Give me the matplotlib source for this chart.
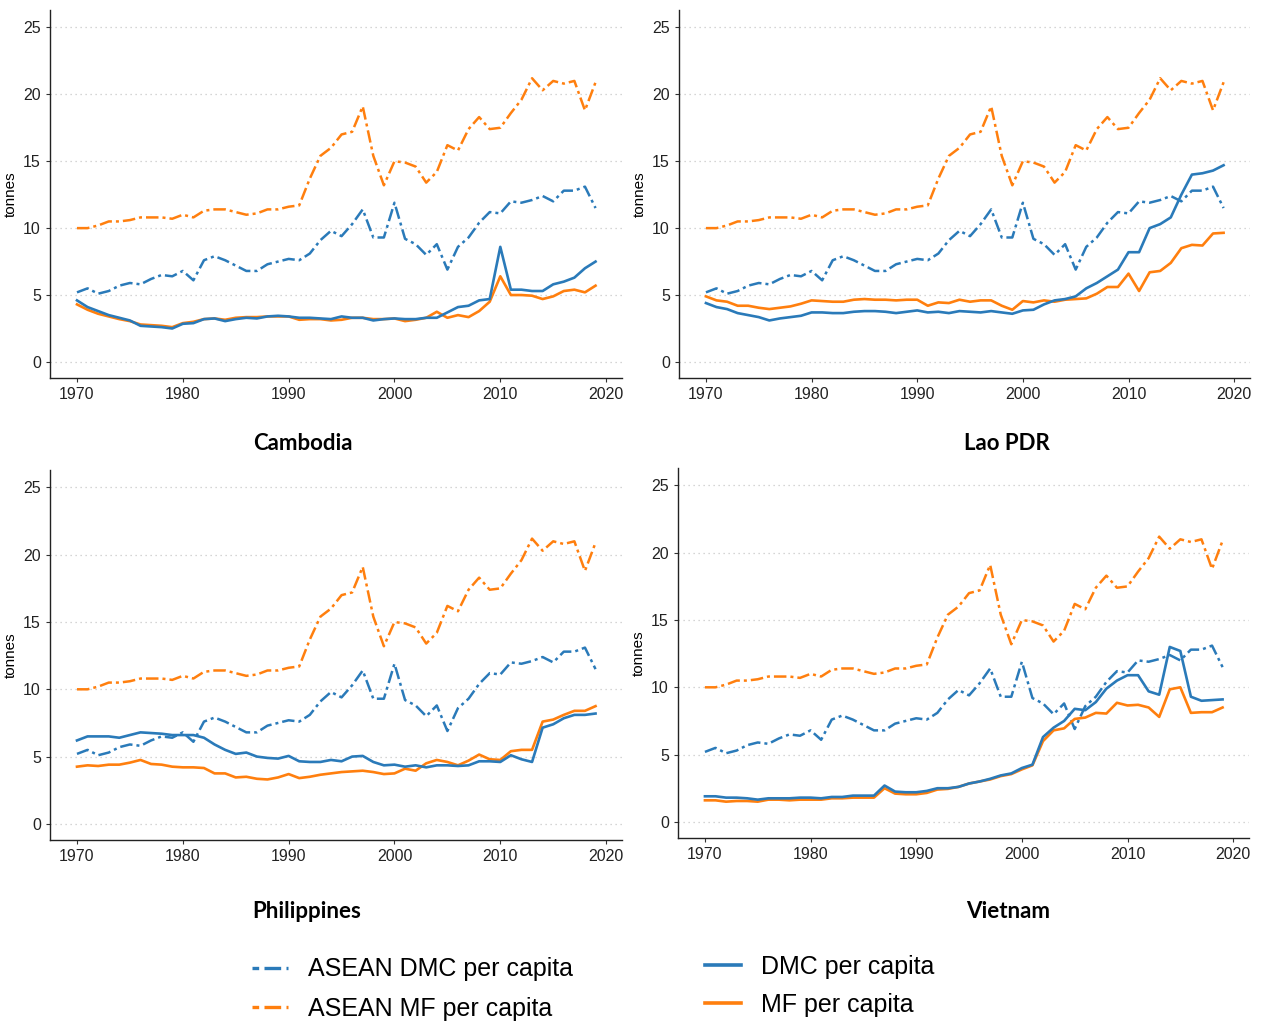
import numpy as np
import matplotlib
matplotlib.use("Agg")
import matplotlib.pyplot as plt
from matplotlib.lines import Line2D

years = list(range(1970, 2020))

# ASEAN averages (same reference lines in every panel)
asean_mf = [10.0, 10.0, 10.2, 10.5, 10.5, 10.6, 10.8, 10.8, 10.8, 10.7,
            11.0, 10.8, 11.3, 11.4, 11.4, 11.2, 11.0, 11.1, 11.4, 11.4,
            11.6, 11.7, 13.7, 15.4, 16.0, 17.0, 17.2, 19.1, 15.4, 13.2,
            15.0, 14.9, 14.6, 13.4, 14.2, 16.2, 15.8, 17.4, 18.3, 17.4,
            17.5, 18.6, 19.6, 21.2, 20.3, 21.0, 20.8, 21.0, 18.8, 20.9]
asean_dmc = [5.2, 5.5, 5.1, 5.3, 5.7, 5.9, 5.8, 6.2, 6.5, 6.4,
             6.8, 6.1, 7.6, 7.9, 7.6, 7.2, 6.8, 6.8, 7.3, 7.5,
             7.7, 7.6, 8.1, 9.1, 9.8, 9.4, 10.3, 11.4, 9.3, 9.3,
             11.9, 9.2, 8.8, 8.0, 8.8, 6.9, 8.6, 9.3, 10.4, 11.2,
             11.1, 12.0, 11.9, 12.1, 12.4, 12.0, 12.8, 12.8, 13.1, 11.5]

# Cambodia
khm_dmc = [4.6, 4.1, 3.8, 3.5, 3.3, 3.1, 2.7, 2.65, 2.6, 2.5,
           2.85, 2.9, 3.2, 3.25, 3.05, 3.2, 3.3, 3.25, 3.4, 3.45,
           3.4, 3.3, 3.3, 3.25, 3.2, 3.4, 3.3, 3.3, 3.1, 3.2,
           3.25, 3.2, 3.2, 3.3, 3.3, 3.7, 4.1, 4.2, 4.6, 4.7,
           8.6, 5.4, 5.4, 5.3, 5.3, 5.8, 6.0, 6.3, 7.0, 7.5]
khm_mf = [4.3, 3.9, 3.6, 3.4, 3.2, 3.05, 2.8, 2.75, 2.7, 2.6,
          2.9, 3.0, 3.2, 3.25, 3.15, 3.3, 3.35, 3.35, 3.4, 3.4,
          3.4, 3.15, 3.2, 3.2, 3.1, 3.15, 3.3, 3.3, 3.2, 3.2,
          3.25, 3.05, 3.15, 3.3, 3.75, 3.3, 3.5, 3.35, 3.8, 4.5,
          6.4, 5.0, 5.0, 4.95, 4.7, 4.9, 5.3, 5.4, 5.2, 5.7]

# Lao PDR
lao_dmc = [4.4, 4.1, 3.95, 3.65, 3.5, 3.35, 3.1, 3.25, 3.35, 3.45,
           3.7, 3.7, 3.65, 3.65, 3.75, 3.8, 3.8, 3.75, 3.65, 3.75,
           3.85, 3.7, 3.75, 3.65, 3.8, 3.75, 3.7, 3.8, 3.7, 3.6,
           3.85, 3.9, 4.3, 4.6, 4.7, 4.9, 5.5, 5.9, 6.4, 6.9,
           8.2, 8.2, 10.0, 10.3, 10.8, 12.5, 14.0, 14.1, 14.3, 14.7]
lao_mf = [4.9, 4.6, 4.5, 4.2, 4.2, 4.05, 3.95, 4.05, 4.15, 4.35,
          4.6, 4.55, 4.5, 4.5, 4.65, 4.7, 4.65, 4.65, 4.6, 4.65,
          4.65, 4.2, 4.45, 4.4, 4.65, 4.5, 4.6, 4.6, 4.2, 3.9,
          4.55, 4.45, 4.6, 4.5, 4.65, 4.7, 4.75, 5.1, 5.6, 5.6,
          6.6, 5.3, 6.7, 6.8, 7.4, 8.5, 8.75, 8.7, 9.6, 9.65]

# Philippines
phl_dmc = [6.2, 6.5, 6.5, 6.5, 6.4, 6.6, 6.8, 6.75, 6.7, 6.6,
           6.6, 6.6, 6.4, 5.9, 5.5, 5.2, 5.3, 5.0, 4.9, 4.85,
           5.05, 4.65, 4.6, 4.6, 4.75, 4.65, 5.0, 5.05, 4.6, 4.35,
           4.4, 4.25, 4.35, 4.2, 4.35, 4.35, 4.3, 4.35, 4.65, 4.65,
           4.6, 5.1, 4.8, 4.6, 7.15, 7.4, 7.85, 8.1, 8.1, 8.2]
phl_mf = [4.25, 4.35, 4.3, 4.4, 4.4, 4.55, 4.75, 4.45, 4.4, 4.25,
          4.2, 4.2, 4.15, 3.75, 3.75, 3.45, 3.5, 3.35, 3.3, 3.45,
          3.7, 3.4, 3.5, 3.65, 3.75, 3.85, 3.9, 3.95, 3.85, 3.7,
          3.75, 4.1, 3.95, 4.5, 4.75, 4.6, 4.35, 4.7, 5.15, 4.8,
          4.75, 5.4, 5.5, 5.5, 7.6, 7.75, 8.1, 8.4, 8.4, 8.75]

# Vietnam
vnm_dmc = [1.9, 1.9, 1.8, 1.8, 1.75, 1.65, 1.75, 1.75, 1.75, 1.8,
           1.8, 1.75, 1.85, 1.85, 1.95, 1.95, 1.95, 2.7, 2.25, 2.2,
           2.2, 2.3, 2.5, 2.5, 2.6, 2.85, 3.0, 3.2, 3.45, 3.6,
           4.0, 4.25, 6.3, 7.0, 7.5, 8.4, 8.3, 8.9, 9.9, 10.5,
           10.9, 10.9, 9.7, 9.45, 13.0, 12.7, 9.3, 9.0, 9.05, 9.1]
vnm_mf = [1.6, 1.6, 1.5, 1.55, 1.55, 1.5, 1.65, 1.65, 1.6, 1.65,
          1.65, 1.65, 1.75, 1.75, 1.8, 1.8, 1.8, 2.5, 2.1, 2.05,
          2.05, 2.15, 2.4, 2.45, 2.6, 2.85, 3.0, 3.15, 3.4, 3.55,
          3.9, 4.2, 6.0, 6.8, 6.95, 7.65, 7.75, 8.1, 8.05, 8.85,
          8.65, 8.7, 8.5, 7.8, 9.85, 10.0, 8.1, 8.15, 8.15, 8.5]

countries = ["Cambodia", "Lao PDR", "Philippines", "Vietnam"]
dmc_series = [khm_dmc, lao_dmc, phl_dmc, vnm_dmc]
mf_series = [khm_mf, lao_mf, phl_mf, vnm_mf]

blue = "#2a7ab9"
orange = "#ff7f0e"
dashdot = (0, (5, 1.6, 1.2, 1.6))

W, H = 1261, 1021
fig = plt.figure(figsize=(W / 100, H / 100), dpi=100)

# axes boxes in pixels: left, top, right, bottom
boxes = [(50, 10, 622, 378), (679, 10, 1250, 378),
         (50, 470, 622, 840), (678, 468, 1249, 838)]
title_pos = [(303, 443), (1007, 443), (307, 911), (1008, 911)]

for i, name in enumerate(countries):
    l, t, r, b = boxes[i]
    ax = fig.add_axes([l / W, 1 - b / H, (r - l) / W, (b - t) / H])
    ax.plot(years, asean_mf, color=orange, lw=1.8, linestyle=dashdot)
    ax.plot(years, asean_dmc, color=blue, lw=1.8, linestyle=dashdot)
    ax.plot(years, mf_series[i], color=orange, lw=1.9)
    ax.plot(years, dmc_series[i], color=blue, lw=1.9)

    ax.set_xlim(1967.45, 2021.5)
    ax.set_ylim(-1.2, 26.3)
    ax.set_xticks([1970, 1980, 1990, 2000, 2010, 2020])
    ax.set_yticks([0, 5, 10, 15, 20, 25])
    ax.yaxis.grid(True, linestyle=(0, (1, 3)), color="#c8c8c8", lw=0.9)
    ax.set_axisbelow(True)
    for s in ["top", "right"]:
        ax.spines[s].set_visible(False)
    for s in ["left", "bottom"]:
        ax.spines[s].set_color("#222222")
        ax.spines[s].set_linewidth(1.0)
    ax.tick_params(labelsize=11.5, length=3, color="#333333", labelcolor="#222222")
    for lab in ax.get_xticklabels() + ax.get_yticklabels():
        lab.set_family("Liberation Sans")
    ax.set_ylabel("tonnes", fontsize=11, family="Liberation Sans", labelpad=4)

    tx, ty = title_pos[i]
    fig.text(tx / W, 1 - ty / H, name, ha="center", va="center",
             fontsize=16, fontweight="bold", family="Lato")

h1 = [Line2D([], [], color=blue, lw=2.4, linestyle=(0, (2, 1.6, 5, 1.6))),
      Line2D([], [], color=orange, lw=2.4, linestyle=(0, (2, 1.6, 5, 1.6)))]
h2 = [Line2D([], [], color=blue, lw=2.6),
      Line2D([], [], color=orange, lw=2.6)]
leg_font = {"family": "Liberation Sans", "size": 18}
fig.legend(h1, ["ASEAN DMC per capita", "ASEAN MF per capita"],
           loc="center left", bbox_to_anchor=(229 / W, 1 - 989 / H),
           frameon=False, prop=leg_font, handlelength=1.45,
           labelspacing=0.62, handletextpad=0.8)
fig.legend(h2, ["DMC per capita", "MF per capita"],
           loc="center left", bbox_to_anchor=(682 / W, 1 - 986 / H),
           frameon=False, prop=leg_font, handlelength=1.45,
           labelspacing=0.55, handletextpad=0.8)

fig.savefig("out.png", dpi=100, facecolor="white")
